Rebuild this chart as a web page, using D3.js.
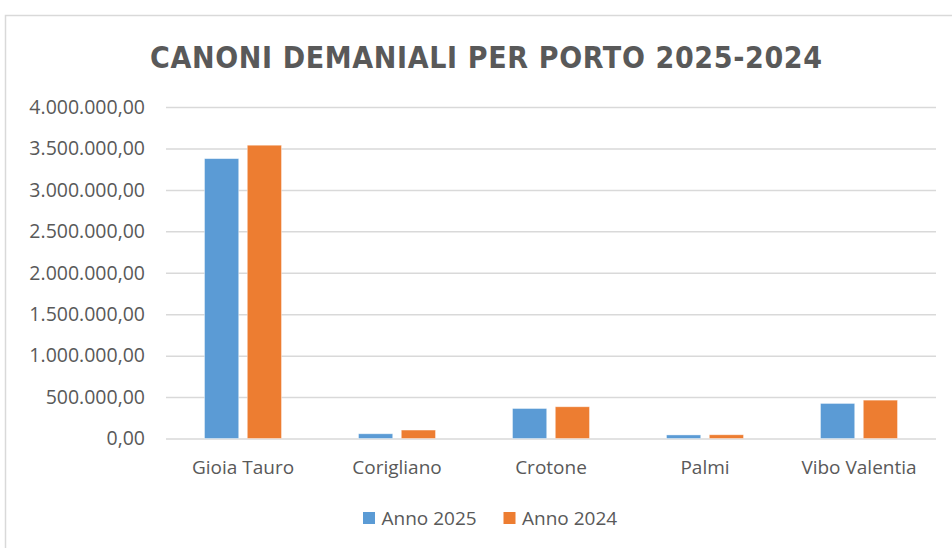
<!DOCTYPE html>
<html>
<head>
<meta charset="utf-8">
<script src="https://cdn.jsdelivr.net/npm/d3@7"></script>
<style>
  html, body { margin: 0; padding: 0; background: #fff; }
  svg { display: block; }
  text { font-family: "Open Sans", sans-serif; fill: #595959; }
</style>
</head>
<body>
<div id="chart"></div>
<script>
'use strict'
// porti e canoni (euro)
const categories = ['Gioia Tauro', 'Corigliano', 'Crotone', 'Palmi', 'Vibo Valentia'];
const seriesNames = ['Anno 2025', 'Anno 2024'];
const anno2025 = [3377000, 57000, 362000, 43000, 423000];
const anno2024 = [3539000, 102000, 383000, 45000, 463000];
const yTicks = [0, 500000, 1000000, 1500000, 2000000, 2500000, 3000000, 3500000, 4000000];
const colors = ['#5b9bd5', '#ed7d31'];

const W = 952, H = 548;
const plot = {left: 166, right: 936, top: 107, bottom: 438.5};

let svg = d3.select('#chart')
  .append('svg')
  .attr('width', W)
  .attr('height', H);

// cornice
svg.append('rect')
  .attr('x', 5.5).attr('y', 15.5)
  .attr('width', W + 20).attr('height', H + 20)
  .attr('fill', '#fff')
  .attr('stroke', '#d9d9d9')
  .attr('stroke-width', 1.5);

// titolo
svg.append('text')
  .attr('x', 486)
  .attr('y', 68)
  .attr('text-anchor', 'middle')
  .attr('textLength', 672)
  .attr('lengthAdjust', 'spacing')
  .style('font-family', '"DejaVu Sans Condensed", "DejaVu Sans", sans-serif')
  .style('font-stretch', 'condensed')
  .style('font-weight', 'bold')
  .style('font-size', '30px')
  .text('CANONI DEMANIALI PER PORTO 2025-2024');

let it = d3.formatLocale({decimal: ',', thousands: '.', grouping: [3], currency: ['€', '']});
let fmt = it.format(',.2f');

let y = d3.scaleLinear()
  .domain([0, 4000000])
  .range([plot.bottom, plot.top]);

let x0 = d3.scaleBand()
  .domain(categories)
  .range([plot.left, plot.right])
  .padding(0);

let x1 = d3.scaleBand()
  .domain(seriesNames)
  .range([38.5, x0.bandwidth() - 38.5])
  .paddingInner(0.2);

// asse y + griglia
let yAxis = d3.axisLeft(y)
  .tickValues(yTicks)
  .tickFormat(fmt)
  .tickSizeInner(-(plot.right - plot.left))
  .tickSizeOuter(0)
  .tickPadding(21);

let yg = svg.append('g')
  .attr('transform', 'translate(' + plot.left + ',0)')
  .call(yAxis);
yg.select('.domain').remove();
yg.selectAll('line').attr('stroke', '#d9d9d9').attr('stroke-width', 1.5);
yg.selectAll('text')
  .attr('fill', '#595959')
  .style('font-family', '"Open Sans", sans-serif')
  .style('font-size', '19.5px');

// barre
let rows = categories.map(function(c, i) {
  return {cat: c, values: [anno2025[i], anno2024[i]]};
});

let groups = svg.selectAll('.porto')
  .data(rows)
  .enter().append('g')
  .attr('class', 'porto')
  .attr('transform', function(d) { return 'translate(' + x0(d.cat) + ',0)'; });

groups.selectAll('rect')
  .data(function(d) { return d.values.map(function(v, k) { return {name: seriesNames[k], value: v, k: k}; }); })
  .enter().append('rect')
  .attr('x', function(d) { return x1(d.name); })
  .attr('y', function(d) { return y(d.value); })
  .attr('width', x1.bandwidth())
  .attr('height', function(d) { return y(0) - y(d.value); })
  .attr('fill', function(d) { return colors[d.k]; })
  .attr('stroke', '#fff')
  .attr('stroke-opacity', 0.5)
  .attr('stroke-width', 0.8);

// asse x
let xAxis = d3.axisBottom(x0).tickSize(0).tickPadding(22.5);
let xg = svg.append('g')
  .attr('transform', 'translate(0,' + plot.bottom + ')')
  .call(xAxis);
xg.select('.domain').remove();
xg.selectAll('text')
  .attr('fill', '#595959')
  .style('font-family', '"Open Sans", sans-serif')
  .style('font-size', '19px');

// legenda
let legendX = [363, 503.5];
let legend = svg.selectAll('.leg')
  .data(seriesNames)
  .enter().append('g')
  .attr('class', 'leg')
  .attr('transform', function(d, i) { return 'translate(' + legendX[i] + ',512)'; });
legend.append('rect')
  .attr('width', 12).attr('height', 12)
  .attr('fill', function(d, i) { return colors[i]; });
legend.append('text')
  .attr('x', 18.5)
  .attr('y', 12.5)
  .style('font-size', '19px')
  .text(function(d) { return d; });
</script>
</body>
</html>
